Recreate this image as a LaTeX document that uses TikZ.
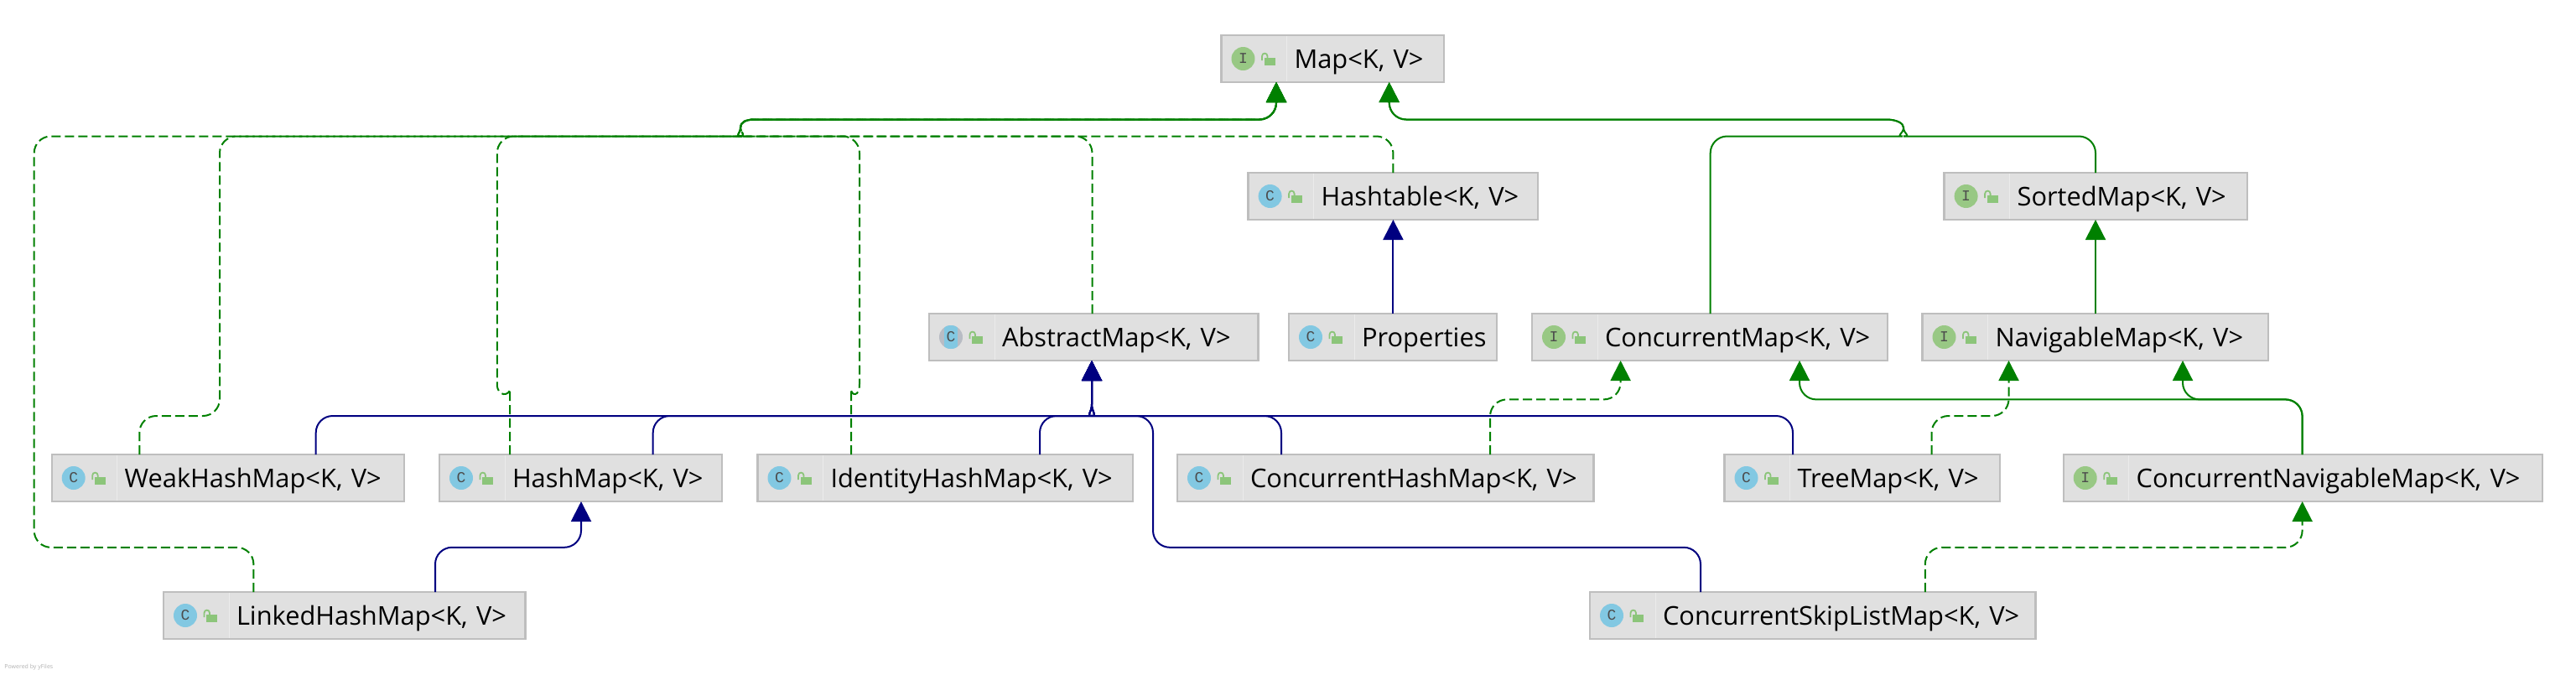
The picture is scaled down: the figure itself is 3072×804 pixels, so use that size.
\documentclass[tikz,border=0pt]{standalone}
\usepackage{fontspec}
\setmainfont{Open Sans}
\newfontfamily\iconletter{Liberation Mono}
\usetikzlibrary{arrows.meta}
\definecolor{impl}{HTML}{008000}
\definecolor{ext}{HTML}{000080}
\definecolor{boxfill}{HTML}{E0E0E0}
\definecolor{boxline}{HTML}{BEBEBE}
\definecolor{iconblue}{HTML}{82C8E2}
\definecolor{icongreen}{HTML}{98C884}
\definecolor{icongrey}{HTML}{B8BCC4}
\definecolor{lockgreen}{HTML}{8CC57A}
\tikzset{
 classbox/.style={draw=boxline, fill=boxfill, line width=1.2pt, minimum height=28pt, outer sep=0,
  inner xsep=0, inner ysep=0, text height=19.6pt, text depth=8.4pt, align=left, font=\fontsize{15.4pt}{18pt}\selectfont},
 classicon/.style={circle, fill=iconblue, minimum size=14pt, inner sep=0, text=black!70, font=\iconletter\fontsize{9pt}{9pt}\selectfont},
 ifaceicon/.style={classicon, fill=icongreen},
 abstracticon/.style={classicon, fill=icongrey, path picture={
  \fill[iconblue] ([xshift=-4pt]path picture bounding box.south) rectangle ([xshift=4pt]path picture bounding box.north);}},
 implements/.style={draw=impl, line width=1pt, dashed, dash pattern=on 5.5pt off 2.5pt, rounded corners=10pt,
  -{Triangle[length=12pt,width=12pt,fill=impl]}},
 implsolid/.style={draw=impl, line width=1pt, rounded corners=10pt, -{Triangle[length=12pt,width=12pt,fill=impl]}},
 extends/.style={draw=ext, line width=1pt, rounded corners=10pt, -{Triangle[length=12pt,width=12pt,fill=ext]}},
 mapleft/.style={insert path={.. controls (883,146) and (889,142.5) .. (900,142.5) [rounded corners=10pt] -- (1522,142.5) -- (1522,0 |- Map.south)}},
 fromleft/.style={insert path={[sharp corners] .. controls (875,162.5) and (883,160) .. (883,152) [mapleft]}},
 fromright/.style={insert path={[sharp corners] .. controls (892,162.5) and (883,159) .. (883,152) [mapleft]}},
 mapright/.style={insert path={.. controls (2270,147) and (2262,142.5) .. (2249,142.5) [rounded corners=10pt] -- (1656.7,142.5) -- (1656.7,0 |- Map.south)}},
 absleft/.style={insert path={[sharp corners] .. controls (1295,496) and (1302,492) .. (1302,482) -- (1302,0 |- AbstractMap.south)}},
 absright/.style={insert path={[sharp corners] .. controls (1309,496) and (1302,492) .. (1302,482) -- (1302,0 |- AbstractMap.south)}},
}
\begin{document}
\begin{tikzpicture}[x=0.5pt,y=-0.5pt]
\useasboundingbox (0,0) rectangle (3072,804);
\foreach \cls/\lft/\rgt/\tp/\icon/\letter/\txt in {
 Map/1456.5/1722/41/ifaceicon/I/{Map<K, V>},
 Hashtable/1488.6/1834/205/classicon/C/{Hashtable<K, V>},
 SortedMap/2318.6/2679.7/205/ifaceicon/I/{SortedMap<K, V>},
 AbstractMap/1108/1500.5/373/abstracticon/C/{AbstractMap<K, V>},
 Properties/1537/1785/373/classicon/C/{Properties},
 ConcurrentMap/1827/2251/373/ifaceicon/I/{ConcurrentMap<K, V>},
 NavigableMap/2292.5/2705/373/ifaceicon/I/{NavigableMap<K, V>},
 WeakHashMap/61.7/482/541/classicon/C/{WeakHashMap<K, V>},
 HashMap/524/861/541/classicon/C/{HashMap<K, V>},
 IdentityHashMap/903.5/1351/541/classicon/C/{IdentityHashMap<K, V>},
 ConcurrentHashMap/1404/1900.5/541/classicon/C/{ConcurrentHashMap<K, V>},
 TreeMap/2056.5/2385/541/classicon/C/{TreeMap<K, V>},
 ConcurrentNavigableMap/2460.7/3031.7/541/ifaceicon/I/{ConcurrentNavigableMap<K, V>},
 LinkedHashMap/195/626.5/705/classicon/C/{LinkedHashMap<K, V>},
 ConcurrentSkipListMap/1896/2427.5/705/classicon/C/{ConcurrentSkipListMap<K, V>}} {
 \begin{scope}[shift={(\lft,\tp)}]
  \pgfmathsetmacro\wid{\rgt-\lft}
  \node (\cls) [classbox, text width=\wid*0.5pt, minimum width=\wid*0.5pt] at (\wid/2,29) {\hspace*{43.5pt}\txt};
  \draw[white!92!black, line width=.5pt] (78,2) -- (78,56);
  \node (\cls-icon) [\icon] at (26,29) {\letter};
  \fill[lockgreen] (51,28) rectangle (64,37);
  \draw[lockgreen, line width=.9pt] (48.5,31) -- (48.5,26) .. controls (48.5,21.5) and (55,21.5) .. (55,26) -- (55,28);
 \end{scope}
}
\node (poweredby) [anchor=west, inner sep=0, text=black!30, font=\fontsize{3.5pt}{4pt}\selectfont] at (5,796) {Powered by yFiles};
% Map, dashed and solid groups
\draw[implements] (302.4,0 |- LinkedHashMap.north) -- (302.4,652.8) -- (40.7,652.8) -- (40.7,162.5) -- (865,162.5) [fromleft];
\draw[implements] (166.3,0 |- WeakHashMap.north) -- (166.3,496) -- (262,496) -- (262,162.5) -- (865,162.5) [fromleft];
\draw[implements] (608,0 |- HashMap.north) -- (608,484) [sharp corners] .. controls (608,472) and (592.8,474) .. (592.8,458) [rounded corners=10pt] -- (592.8,162.5) -- (865,162.5) [fromleft];
\draw[implements] (1015,0 |- IdentityHashMap.north) -- (1015,484) [sharp corners] .. controls (1015,472) and (1025,474) .. (1025,458) [rounded corners=10pt] -- (1025,162.5) -- (900,162.5) [fromright];
\draw[implements] (1302.5,0 |- AbstractMap.north) -- (1302.5,162.5) -- (900,162.5) [fromright];
\draw[implements] (1661.4,0 |- Hashtable.north) -- (1661.4,162.5) -- (900,162.5) [fromright];
\draw[implsolid] (2499,0 |- SortedMap.north) -- (2499,162.5) -- (2290,162.5) [sharp corners] .. controls (2280,162.5) and (2270,160) .. (2270,152) [mapright];
\draw[implsolid] (2039.7,0 |- ConcurrentMap.north) -- (2039.7,162.5) -- (2249,162.5) [sharp corners] .. controls (2260,162.5) and (2270,160) .. (2270,152) [mapright];
\draw[implsolid] (2499,0 |- NavigableMap.north) -- (2499,0 |- SortedMap.south);
\draw[extends] (1661.4,0 |- Properties.north) -- (1661.4,0 |- Hashtable.south);
% AbstractMap
\foreach \kid/\kidx in {WeakHashMap/376.7, HashMap/778.7, IdentityHashMap/1240} {
 \draw[extends] (\kidx,0 |- \kid.north) -- (\kidx,496) -- (1282,496) [absleft];
}
\draw[extends] (1528,0 |- ConcurrentHashMap.north) -- (1528,496) -- (1322,496) [absright];
\draw[extends] (2138,0 |- TreeMap.north) -- (2138,496) -- (1322,496) [absright];
\draw[extends] (2028,0 |- ConcurrentSkipListMap.north) -- (2028,652.8) -- (1375,652.8) -- (1375,496) -- (1322,496) [absright];
% lower levels
\draw[extends] (519,0 |- LinkedHashMap.north) -- (519,652.8) -- (693,652.8) -- (693,0 |- HashMap.south);
\draw[implements] (1777,0 |- ConcurrentHashMap.north) -- (1777,476.4) -- (1932.6,476.4) -- (1932.6,0 |- ConcurrentMap.south);
\draw[implsolid] (2745.6,0 |- ConcurrentNavigableMap.north) -- (2745.6,476.4) -- (2146,476.4) -- (2146,0 |- ConcurrentMap.south);
\draw[implsolid] (2745.6,0 |- ConcurrentNavigableMap.north) -- (2745.6,476.4) -- (2603,476.4) -- (2603,0 |- NavigableMap.south);
\draw[implements] (2303.6,0 |- TreeMap.north) -- (2303.6,496) -- (2395.5,496) -- (2395.5,0 |- NavigableMap.south);
\draw[implements] (2295.8,0 |- ConcurrentSkipListMap.north) -- (2295.8,652.8) -- (2745.6,652.8) -- (2745.6,0 |- ConcurrentNavigableMap.south);
\end{tikzpicture}
\end{document}
